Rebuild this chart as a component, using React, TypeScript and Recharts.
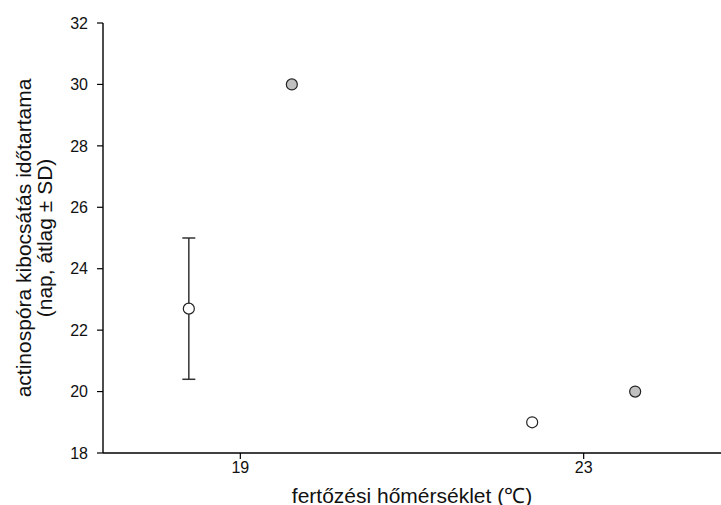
import { ScatterChart, Scatter, XAxis, YAxis, ErrorBar, Label } from 'recharts'

// axis ticks
const tempTicks = [19, 23]
const yTicks = [18, 20, 22, 24, 26, 28, 30, 32]

// open circles (mean ± SD)
const openX = [18.4, 22.4]
const openY = [22.7, 19.0]
const openSd = [2.3, null]

// grey filled circles
const filledX = [19.6, 23.6]
const filledY = [30, 20]

const openData = openX.map((x, i) => ({ x, y: openY[i], sd: openSd[i] }))
const filledData = filledX.map((x, i) => ({ x, y: filledY[i] }))

const font = '"Liberation Sans", Arial, Helvetica, sans-serif'

const dot = (fill: string) => (props: any) => (
  <circle cx={props.cx} cy={props.cy} r={5.5} fill={fill} stroke="#222" strokeWidth={1.2} />
)

const YLabel = (props: any) => {
  const { viewBox } = props
  const cy = viewBox.y + viewBox.height / 2
  return (
    <g>
      <text
        x={23}
        y={cy}
        transform={`rotate(-90, 23, ${cy})`}
        textAnchor="middle"
        dominantBaseline="central"
        fontSize={21}
        fontFamily={font}
        fill="#111"
      >
        actinospóra kibocsátás időtartama
      </text>
      <text
        x={44}
        y={cy}
        transform={`rotate(-90, 44, ${cy})`}
        textAnchor="middle"
        dominantBaseline="central"
        fontSize={21}
        fontFamily={font}
        fill="#111"
      >
        (nap, átlag ± SD)
      </text>
    </g>
  )
}

const XLabel = (props: any) => {
  const { viewBox } = props
  return (
    <text
      x={viewBox.x + viewBox.width / 2}
      y={495}
      textAnchor="middle"
      dominantBaseline="central"
      fontSize={21}
      fontFamily={font}
      fill="#111"
    >
      fertőzési hőmérséklet (℃)
    </text>
  )
}

export default function App() {
  return (
    <div style={{ position: 'absolute', left: 0, top: 0, background: '#fff' }}>
      <ScatterChart width={721} height={505} margin={{ top: 23, right: 0, bottom: 0, left: 0 }}>
        <XAxis
          type="number"
          dataKey="x"
          domain={[17.4, 24.6]}
          ticks={tempTicks}
          tickSize={6}
          tickMargin={3}
          height={52}
          axisLine={{ stroke: '#000', strokeWidth: 1.4 }}
          tickLine={{ stroke: '#000', strokeWidth: 1.2 }}
          tick={{ fill: '#111', fontSize: 16, fontFamily: font }}
        >
          <Label content={<XLabel />} />
        </XAxis>
        <YAxis
          type="number"
          dataKey="y"
          domain={[18, 32]}
          ticks={yTicks}
          width={103}
          tickSize={6}
          tickMargin={9}
          axisLine={{ stroke: '#000', strokeWidth: 1.4 }}
          tickLine={{ stroke: '#000', strokeWidth: 1.2 }}
          tick={{ fill: '#111', fontSize: 16, fontFamily: font }}
        >
          <Label content={<YLabel />} />
        </YAxis>
        <Scatter data={openData} shape={dot('#fff')} isAnimationActive={false}>
          <ErrorBar dataKey="sd" direction="y" width={6.5} stroke="#333" strokeWidth={1.5} />
        </Scatter>
        <Scatter data={filledData} shape={dot('#c0c0c0')} isAnimationActive={false} />
      </ScatterChart>
    </div>
  )
}
